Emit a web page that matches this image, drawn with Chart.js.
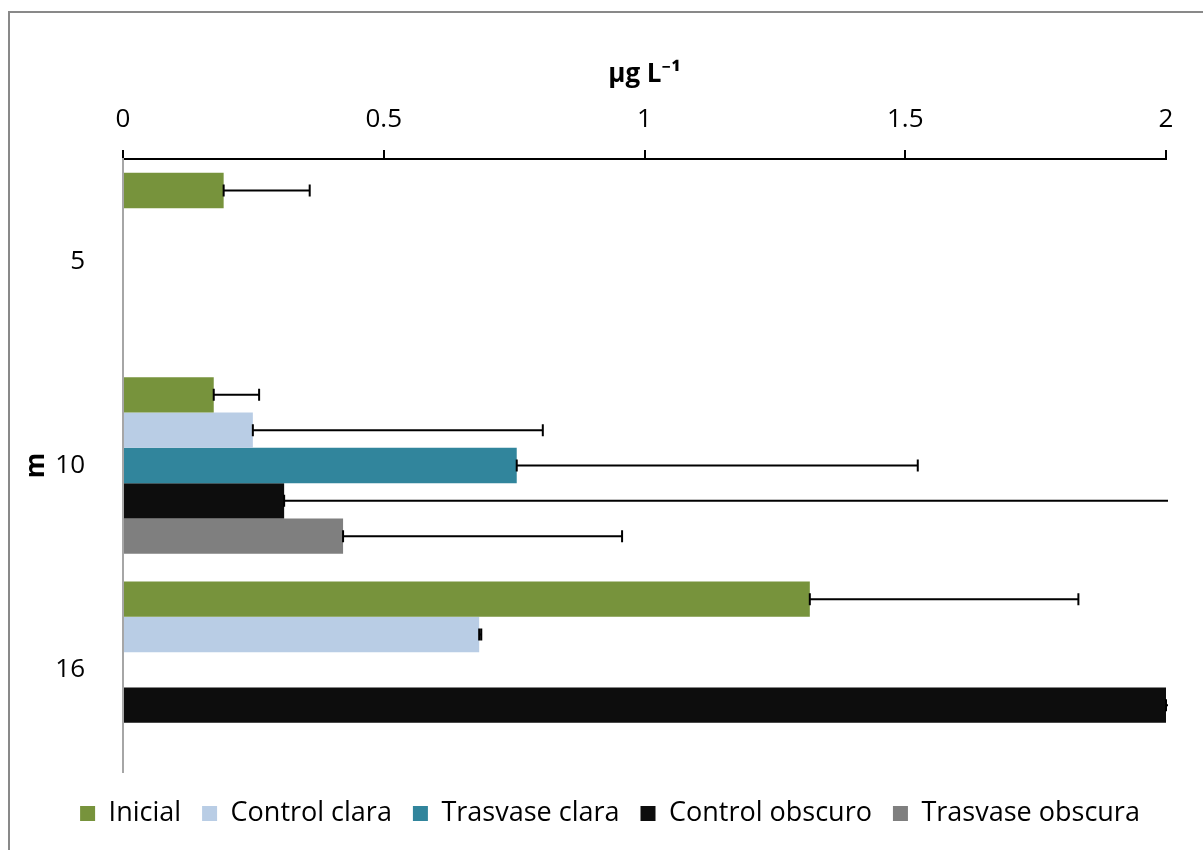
<!DOCTYPE html>
<html>
<head>
<meta charset="utf-8">
<script src="https://cdn.jsdelivr.net/npm/chart.js@4.4.0/dist/chart.umd.min.js"></script>
<style>
  html, body { margin: 0; padding: 0; background: #fff; }
  #wrap { width: 1203px; height: 850px; }
</style>
</head>
<body>
<div id="wrap"><canvas id="chart" width="1203" height="850"></canvas></div>
<script>
// Datos (m = profundidad, valores en ug/L)
const categories = ['5', '10', '16'];
const seriesNames = ['Inicial', 'Control clara', 'Trasvase clara', 'Control obscuro', 'Trasvase obscura'];
const seriesColors = ['#77933C', '#B9CDE5', '#31859C', '#0D0D0D', '#7F7F7F'];

const inicial = [0.193, 0.174, 1.317];
const controlClara = [null, 0.249, 0.683];
const trasvaseClara = [null, 0.755, null];
const controlObscuro = [null, 0.309, 2.0];
const trasvaseObscura = [null, 0.422, null];

// error (solo positivo)
const inicialErr = [0.165, 0.087, 0.515];
const controlClaraErr = [null, 0.556, 0.004];
const trasvaseClaraErr = [null, 0.769, null];
const controlObscuroErr = [null, 1.8, 0.3];
const trasvaseObscuraErr = [null, 0.535, null];

const xTicks = [0, 0.5, 1, 1.5, 2];

const allValues = [inicial, controlClara, trasvaseClara, controlObscuro, trasvaseObscura];
const allErrors = [inicialErr, controlClaraErr, trasvaseClaraErr, controlObscuroErr, trasvaseObscuraErr];

const FONT = "'Open Sans', 'Noto Sans', sans-serif";

// marco gris alrededor del grafico
const frame = {
    id: 'frame',
    beforeDraw(chart) {
        const ctx = chart.ctx;
        ctx.save();
        ctx.fillStyle = '#fff';
        ctx.fillRect(0, 0, chart.width, chart.height);
        ctx.strokeStyle = '#898989';
        ctx.lineWidth = 2;
        ctx.strokeRect(9, 12, chart.width + 20, chart.height + 20);
        ctx.restore();
    }
};

// barras de error
const errorBars = {
    id: 'errorBars',
    afterDatasetsDraw(chart) {
        const ctx = chart.ctx;
        const xs = chart.scales.x;
        const area = chart.chartArea;
        ctx.save();
        ctx.beginPath();
        ctx.rect(area.left, area.top - 10, area.right - area.left + 2, area.bottom - area.top + 20);
        ctx.clip();
        ctx.strokeStyle = '#000';
        ctx.lineWidth = 2;
        chart.data.datasets.forEach((ds, i) => {
            const meta = chart.getDatasetMeta(i);
            const errs = allErrors[i];
            errs.forEach((e, j) => {
                if (e == null || ds.data[j] == null) return;
                const bar = meta.data[j];
                const x0 = xs.getPixelForValue(ds.data[j]);
                const x1 = xs.getPixelForValue(ds.data[j] + e);
                const y = bar.y;
                ctx.beginPath();
                ctx.moveTo(x0, y); ctx.lineTo(x1, y);
                ctx.moveTo(x0, y - 6); ctx.lineTo(x0, y + 6);
                ctx.moveTo(x1, y - 6); ctx.lineTo(x1, y + 6);
                ctx.stroke();
            });
        });
        ctx.restore();
    },
    afterLayout(chart) {
        // mover la leyenda un poco (como en Excel)
        if (chart.legend) {
            chart.legend.left += 22; chart.legend.right += 22;
            chart.legend.top += 7; chart.legend.bottom += 7;
        }
    }
};

const ctx = document.getElementById('chart').getContext('2d');
new Chart(ctx, {
    type: 'bar',
    data: {
        labels: categories,
        datasets: seriesNames.map((name, i) => ({
            label: name,
            data: allValues[i],
            backgroundColor: seriesColors[i],
            borderWidth: 0,
            categoryPercentage: 0.865,
            barPercentage: 1.0
        }))
    },
    options: {
        indexAxis: 'y',
        responsive: false,
        animation: false,
        layout: { padding: { left: 10, right: 37, top: 40, bottom: 20 } },
        plugins: {
            title: { display: false },
            tooltip: { enabled: false },
            legend: {
                position: 'bottom',
                labels: {
                    color: '#000',
                    font: { family: FONT, size: 27 },
                    boxWidth: 15, boxHeight: 15,
                    padding: 21
                }
            }
        },
        scales: {
            x: {
                position: 'top',
                min: 0, max: 2,
                afterBuildTicks: (scale) => { scale.ticks = xTicks.map(v => ({ value: v })); },
                afterFit: (scale) => { scale.height = 119; },
                ticks: {
                    color: '#000',
                    font: { family: FONT, size: 26 },
                    padding: 15,
                    maxRotation: 0,
                    callback: (v) => String(v)
                },
                grid: { display: true, drawOnChartArea: false, drawTicks: true, tickLength: 9, color: '#000', lineWidth: 2 },
                border: { display: true, color: '#000', width: 2 },
                title: {
                    display: true,
                    text: 'μg L⁻¹',
                    color: '#000',
                    font: { family: FONT, size: 26, weight: 'bold' },
                    padding: { top: 19, bottom: 0 }
                }
            },
            y: {
                afterFit: (scale) => { scale.width = 113; },
                ticks: {
                    color: '#000',
                    font: { family: FONT, size: 26 },
                    padding: 30
                },
                grid: { display: false },
                border: { display: true, color: '#A6A6A6', width: 2 },
                title: {
                    display: true,
                    text: 'm',
                    color: '#000',
                    font: { family: FONT, size: 26, weight: 'bold' },
                    padding: { top: 11, bottom: 0 }
                }
            }
        }
    },
    plugins: [frame, errorBars]
});
</script>
</body>
</html>
